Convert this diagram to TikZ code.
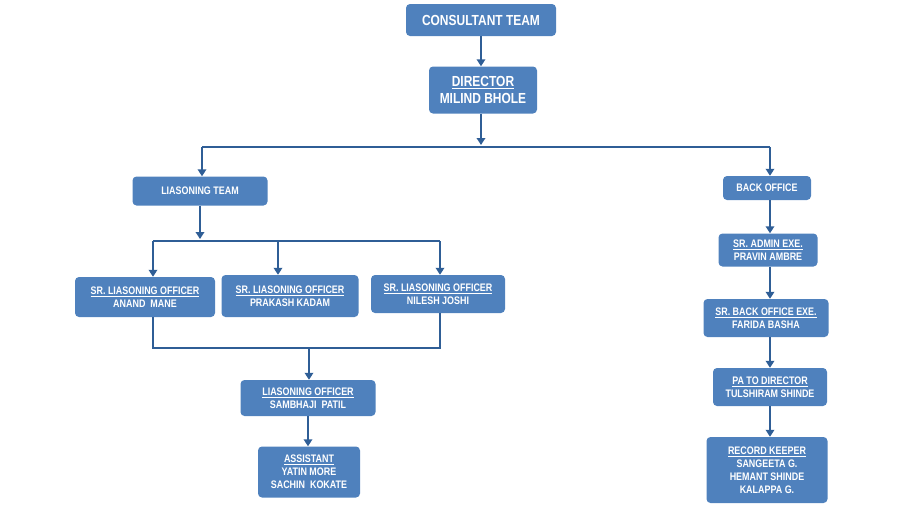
\documentclass[tikz,border=0pt]{standalone}
\usepackage{fontspec}
\setmainfont{Liberation Sans}[FakeStretch=0.82]
\usetikzlibrary{arrows.meta}
\definecolor{boxblue}{HTML}{4F81BD}
\definecolor{lineblue}{HTML}{2F5E96}
\begin{document}
\begin{tikzpicture}[x=1pt, y=-1pt,
          box/.style={fill=boxblue, text=white, rounded corners=4pt, align=center, inner sep=0pt,
                      font=\bfseries\fontsize{10.9}{13}\selectfont},
          bigbox/.style={box, font=\bfseries\fontsize{14.6}{17}\selectfont},
          flow/.style={draw=lineblue, line width=2.7pt},
          arr/.style={flow, -{Triangle[length=7pt,width=8.5pt]}}]
        \useasboundingbox (0,0) rectangle (900,520);
        % top
        \node[bigbox, minimum width=150, minimum height=32] (team) at (481,20) {CONSULTANT TEAM};
        \node[bigbox, minimum width=108, minimum height=47] (dir) at (483,90) {\underline{DIRECTOR}\\MILIND BHOLE};
        \coordinate (bus) at (481,147);
        \node[box, minimum width=135, minimum height=29] (lt) at (200,191) {LIASONING TEAM};
        \node[box, minimum width=88, minimum height=24] (bo) at (767,188) {BACK OFFICE};
        % liasoning side
        \node[box, minimum width=140, minimum height=40] (slo1) at (145,297) {\underline{SR. LIASONING OFFICER}\\ANAND\ \ MANE};
        \node[box, minimum width=137, minimum height=42] (slo2) at (290,296) {\underline{SR. LIASONING OFFICER}\\PRAKASH KADAM};
        \node[box, minimum width=134, minimum height=38] (slo3) at (438,294) {\underline{SR. LIASONING OFFICER}\\NILESH JOSHI};
        \node[box, minimum width=135, minimum height=36] (lo) at (308,398) {\underline{LIASONING OFFICER}\\SAMBHAJI\ \ PATIL};
        \node[box, minimum width=102, minimum height=51] (asst) at (309,472) {\underline{ASSISTANT}\\YATIN MORE\\SACHIN\ \ KOKATE};
        % back office side
        \node[box, minimum width=99, minimum height=33] (adm) at (768,250) {\underline{SR. ADMIN EXE.}\\PRAVIN AMBRE};
        \node[box, minimum width=125, minimum height=38] (bex) at (766,318) {\underline{SR. BACK OFFICE EXE.}\\FARIDA BASHA};
        \node[box, minimum width=114, minimum height=38] (pa) at (770,387) {\underline{PA TO DIRECTOR}\\TULSHIRAM SHINDE};
        \node[box, minimum width=121, minimum height=66] (rec) at (767,470) {\underline{RECORD KEEPER}\\SANGEETA G.\\HEMANT SHINDE\\KALAPPA G.};
        % connectors
        \coordinate (lcol) at (202,160);
        \coordinate (rcol) at (770,160);
        \draw[arr] (team.south) -- (team.south |- dir.north);
        \draw[arr, shorten >=2pt] (bus |- dir.south) -- (bus);
        \draw[flow] (bus -| lcol) -- (bus -| rcol);
        \draw[arr] (bus -| lcol) -- (lcol |- lt.north);
        \draw[arr] (bus -| rcol) -- (rcol |- bo.north);
        \coordinate (split) at (200,241);
        \coordinate (t1) at (153,241);
        \coordinate (t2) at (278,241);
        \coordinate (t3) at (440,241);
        \draw[arr, shorten >=2pt] (lt.south) -- (split);
        \draw[flow] (t1) -- (t3);
        \draw[arr] (t1) -- (t1 |- slo1.north);
        \draw[arr] (t2) -- (t2 |- slo2.north);
        \draw[arr] (t3) -- (t3 |- slo3.north);
        \coordinate (join) at (309,348);
        \draw[flow] (t1 |- slo1.south) -- (t1 |- join) -- (t3 |- join) -- (t3 |- slo3.south);
        \draw[arr] (join) -- (join |- lo.north);
        \draw[arr] (lo.south) -- (lo.south |- asst.north);
        \draw[arr] (rcol |- bo.south) -- (rcol |- adm.north);
        \draw[arr] (rcol |- adm.south) -- (rcol |- bex.north);
        \draw[arr] (rcol |- bex.south) -- (rcol |- pa.north);
        \draw[arr] (rcol |- pa.south) -- (rcol |- rec.north);
      \end{tikzpicture}
\end{document}
